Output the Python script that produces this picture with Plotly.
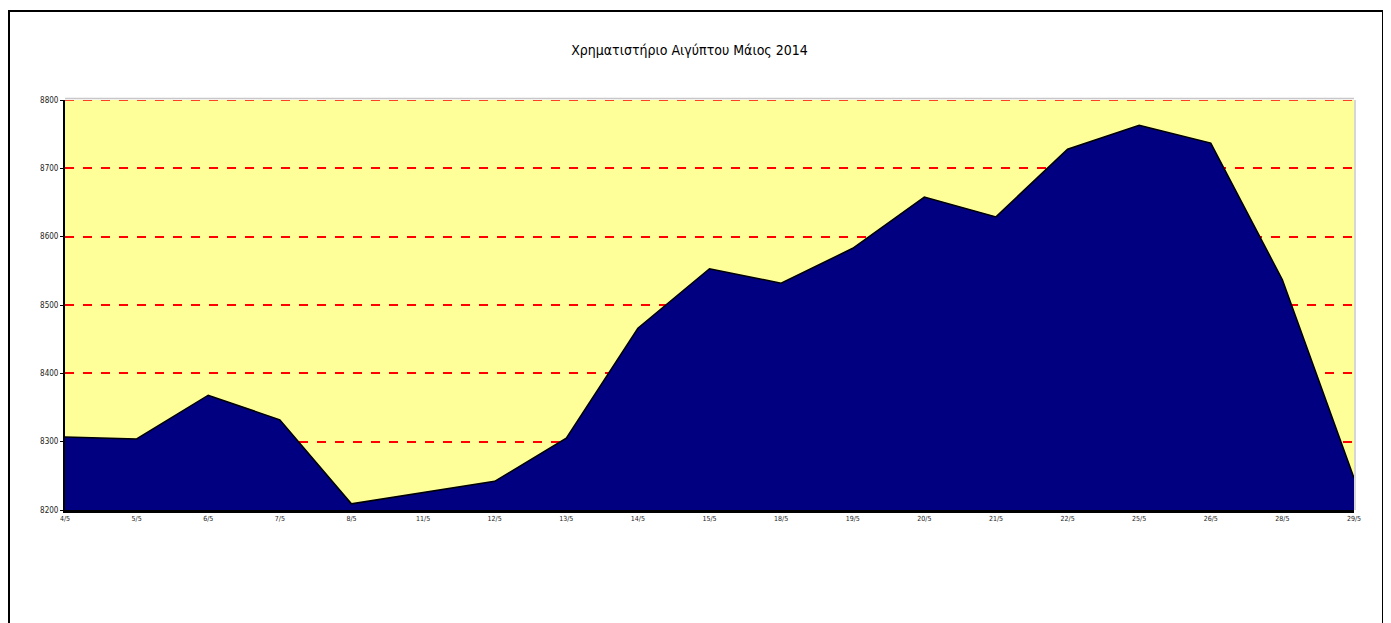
import plotly.graph_objects as go

dates = ["4/5", "5/5", "6/5", "7/5", "8/5", "11/5", "12/5", "13/5", "14/5", "15/5",
         "18/5", "19/5", "20/5", "21/5", "22/5", "25/5", "26/5", "28/5", "29/5"]
values = [8307, 8304, 8368, 8332, 8209, 8225, 8242, 8305, 8466, 8553,
          8532, 8583, 8658, 8629, 8728, 8763, 8737, 8537, 8247]
y_ticks = [8200, 8300, 8400, 8500, 8600, 8700, 8800]

FONT = "Liberation Sans Narrow, DejaVu Sans Condensed, Liberation Sans, Arial, sans-serif"

fig = go.Figure()
fig.add_trace(go.Scatter(
    x=list(range(len(dates))), y=values, mode="lines",
    line=dict(color="black", width=1.5),
    fill="tozeroy", fillcolor="#000080",
    hoverinfo="x+y", showlegend=False,
))

PW, PH = 1289, 410

fig.update_layout(
    width=1383, height=615,
    margin=dict(l=57, r=37, t=92, b=113),
    paper_bgcolor="white", plot_bgcolor="#FFFF99",
    title=dict(text="Χρηματιστήριο Αιγύπτου Μάιος 2014", x=681.5 / 1383, xanchor="center",
               y=(615 - 42) / 615, yanchor="middle",
               font=dict(family=FONT, size=14, color="black")),
    xaxis=dict(
        range=[0, len(dates) - 1], tickmode="array",
        tickvals=list(range(len(dates))), ticktext=dates,
        showgrid=False, zeroline=False,
        showline=True, linecolor="black", linewidth=3,
        ticks="", tickfont=dict(family=FONT, size=7, color="#222"),
    ),
    yaxis=dict(
        range=[8200, 8800], tickmode="array", tickvals=y_ticks,
        showgrid=True, gridcolor="red", griddash="dash", gridwidth=1.5,
        zeroline=False, showline=True, linecolor="black", linewidth=2,
        ticks="outside", ticklen=3, tickcolor="black",
        tickfont=dict(family=FONT, size=8, color="#222"),
    ),
    shapes=[
        dict(type="line", xref="paper", yref="paper", x0=0, x1=1,
             y0=1 + 1.5 / PH, y1=1 + 1.5 / PH,
             line=dict(color="#C8C8C8", width=1.5), layer="above"),
        dict(type="line", xref="paper", yref="y", x0=0, x1=1, y0=8800, y1=8800,
             line=dict(color="red", width=1.5, dash="dash"), layer="above"),
        dict(type="line", xref="paper", yref="paper", x0=1 + 1 / PW, x1=1 + 1 / PW,
             y0=0, y1=1,
             line=dict(color="#C8C8C8", width=1.5), layer="above"),
        dict(type="rect", xref="paper", yref="paper",
             x0=(9 - 65) / PW, x1=(1383 - 65) / PW,
             y0=(510 - 640) / PH, y1=(510 - 11) / PH,
             line=dict(color="black", width=2), fillcolor="rgba(0,0,0,0)"),
    ],
)

fig.write_html("out.html")
